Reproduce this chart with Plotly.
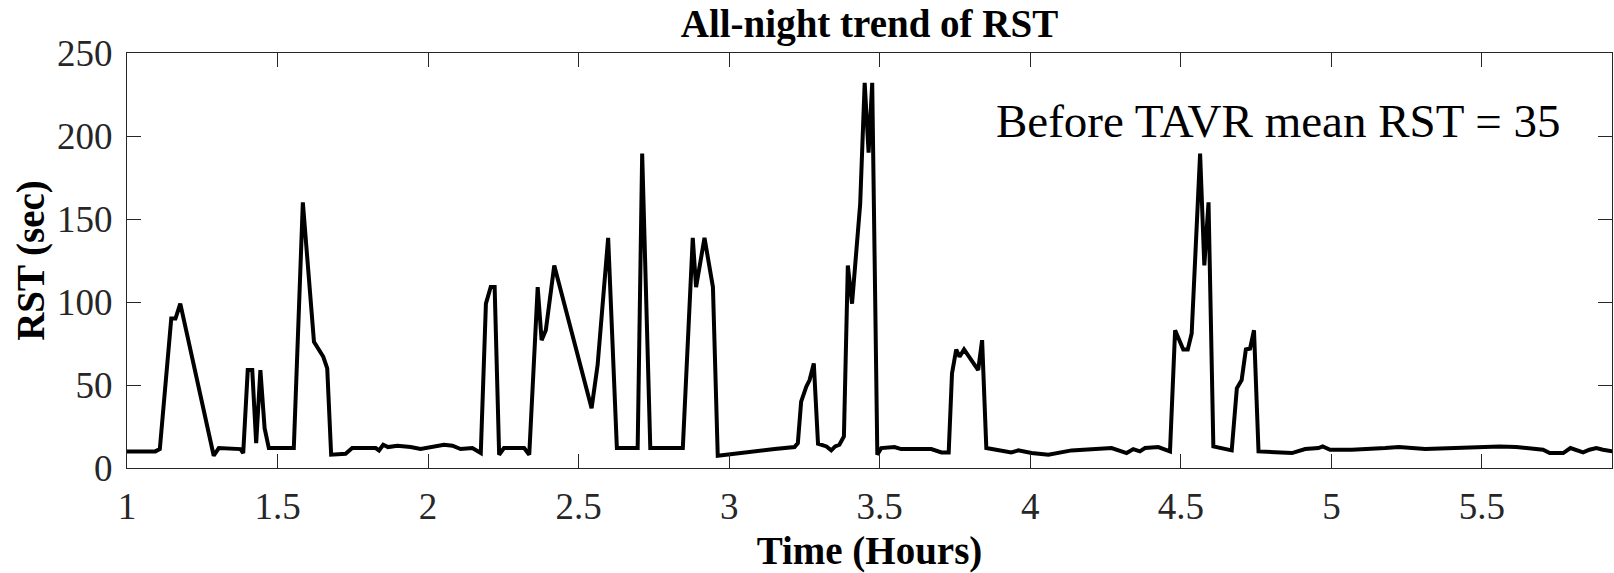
import plotly.graph_objects as go

# Time (hours) and RST (sec)
hours = [1.000, 1.094, 1.109, 1.147, 1.161, 1.177, 1.288, 1.305, 1.377, 1.386,
         1.401, 1.416, 1.429, 1.443, 1.457, 1.471, 1.554, 1.584, 1.621, 1.652,
         1.665, 1.678, 1.726, 1.748, 1.826, 1.837, 1.851, 1.867, 1.898, 1.942,
         1.975, 2.014, 2.053, 2.081, 2.108, 2.147, 2.175, 2.192, 2.208, 2.221,
         2.236, 2.252, 2.319, 2.336, 2.364, 2.377, 2.391, 2.419, 2.543, 2.563,
         2.598, 2.627, 2.696, 2.711, 2.738, 2.846, 2.879, 2.890, 2.918, 2.946,
         2.962, 3.151, 3.217, 3.228, 3.239, 3.256, 3.267, 3.281, 3.295, 3.323,
         3.339, 3.352, 3.366, 3.381, 3.394, 3.408, 3.422, 3.435, 3.450, 3.463,
         3.475, 3.492, 3.505, 3.549, 3.571, 3.671, 3.705, 3.729, 3.740, 3.754,
         3.765, 3.780, 3.827, 3.840, 3.854, 3.893, 3.937, 3.960, 4.004, 4.060,
         4.093, 4.137, 4.270, 4.298, 4.320, 4.342, 4.364, 4.381, 4.425, 4.464,
         4.481, 4.508, 4.523, 4.536, 4.564, 4.578, 4.592, 4.608, 4.669, 4.686,
         4.702, 4.716, 4.730, 4.743, 4.758, 4.869, 4.913, 4.957, 4.971, 4.996,
         5.068, 5.179, 5.224, 5.312, 5.401, 5.558, 5.614, 5.703, 5.725, 5.770,
         5.794, 5.814, 5.836, 5.857, 5.880, 5.902, 5.935]
rst = [10, 10, 11.4, 90, 90, 99, 7.4, 12, 11.4, 9,
       59, 59, 15, 59, 24, 12, 12, 160, 76, 67,
       60, 8, 8.6, 12, 12, 10.6, 14, 12.6, 13.4, 12.6,
       11.4, 12.6, 14, 13.4, 11.4, 12, 9, 99, 109, 109,
       8, 12, 12, 8, 109, 77, 83, 122, 36, 62,
       138.6, 12, 12, 189.4, 12, 12, 138.6, 109, 138.6, 109,
       7.4, 11.4, 12.6, 15, 40, 49, 53, 63, 14.6, 13,
       10.6, 13, 14, 19, 122, 99, 129, 159, 232, 190,
       232, 8, 12, 12.6, 11.4, 11.4, 9.4, 9.4, 57, 71.4,
       67, 71.4, 59, 77, 12, 11, 9.4, 10.6, 9, 8,
       9, 10.6, 12, 10, 9, 11.4, 10, 12, 12.6, 10,
       83, 71.4, 71.4, 81, 189.4, 122, 160, 13, 10.6, 48,
       53, 71.4, 72, 83, 10, 9, 11.4, 12, 13, 11,
       11, 12, 12.6, 11.4, 12, 13, 12.6, 11, 9, 9,
       12, 11, 9.4, 11, 12, 11, 10]

x_tickvals = [1, 1.5, 2, 2.5, 3, 3.5, 4, 4.5, 5, 5.5]
x_ticktext = ["1", "1.5", "2", "2.5", "3", "3.5", "4", "4.5", "5", "5.5"]
y_tickvals = [0, 50, 100, 150, 200, 250]
y_ticktext = ["0", "50", "100", "150", "200", "250"]

title_text = "All-night trend of RST"
x_title = "Time (Hours)"
y_title = "RST (sec)"
note_text = "Before TAVR mean RST = 35"

FONT = "Liberation Serif, Times New Roman, serif"
AX = "#262626"

fig = go.Figure()
fig.add_trace(go.Scatter(x=hours, y=rst, mode="lines",
                         line=dict(color="black", width=4),
                         showlegend=False, hoverinfo="skip"))

axis_common = dict(showline=True, linecolor=AX, linewidth=1.2, mirror="ticks",
                   ticks="inside", ticklen=14, tickwidth=1, tickcolor=AX,
                   showgrid=False, zeroline=False,
                   tickfont=dict(family=FONT, size=37, color=AX))

fig.update_layout(
    width=1614, height=573,
    margin=dict(l=127, r=2, t=53, b=105),
    paper_bgcolor="white", plot_bgcolor="white",
    title=dict(text="<b>" + title_text + "</b>", x=(127 + 1612) / 2 / 1614,
               xanchor="center", y=1 - 23 / 573, yanchor="middle",
               font=dict(family=FONT, size=39, color="black")),
    xaxis=dict(range=[1, 5.932], tickvals=x_tickvals, ticktext=x_ticktext,
               ticklabelstandoff=5,
               title=dict(text="<b>" + x_title + "</b>", standoff=12,
                          font=dict(family=FONT, size=39, color="black")),
               **axis_common),
    yaxis=dict(range=[0, 250], tickvals=y_tickvals, ticktext=y_ticktext,
               ticklabelstandoff=6,
               title=dict(text="<b>" + y_title + "</b>", standoff=0,
                          font=dict(family=FONT, size=39, color="black")),
               **axis_common),
    annotations=[dict(text=note_text, x=4.823, y=209, xref="x", yref="y",
                      xanchor="center", yanchor="middle", showarrow=False,
                      font=dict(family=FONT, size=47, color="black"))],
)

fig.write_html("out.html")
